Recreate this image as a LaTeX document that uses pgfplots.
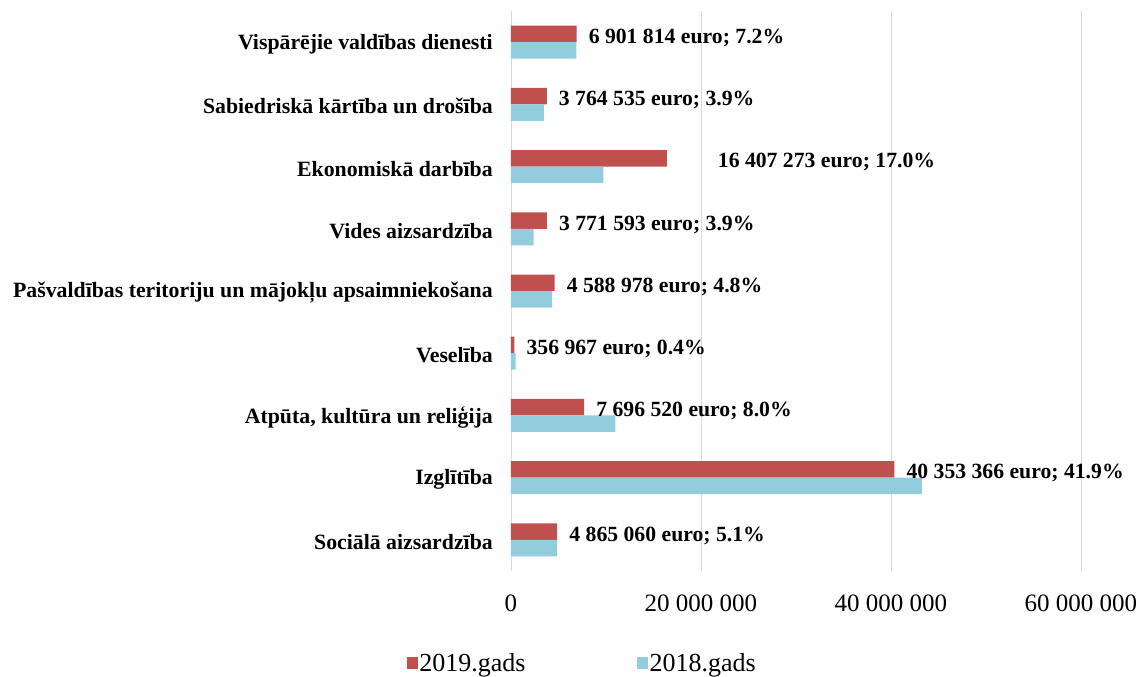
\documentclass[border=0pt]{standalone}
\usepackage{fontspec}
\setmainfont{Liberation Serif}
\usepackage{pgfplots}
\usepackage{pgfplotstable}
\pgfplotsset{compat=1.18}
\definecolor{c19}{HTML}{C0504D}
\definecolor{c18}{HTML}{93CDDD}
\definecolor{gridc}{HTML}{D9D9D9}
\pgfplotstableread[col sep=comma]{
y,v19,v18,lab,dx
8,6901814,6880000,6 901 814 euro; 7.2\%,0
7,3764535,3470000,3 764 535 euro; 3.9\%,0
6,16407273,9720000,16 407 273 euro; 17.0\%,39
5,3771593,2390000,3 771 593 euro; 3.9\%,0
4,4588978,4320000,4 588 978 euro; 4.8\%,0
3,356967,490000,356 967 euro; 0.4\%,0
2,7696520,10990000,7 696 520 euro; 8.0\%,0
1,40353366,43260000,40 353 366 euro; 41.9\%,0
0,4865060,4850000,4 865 060 euro; 5.1\%,0
}\datatable
\begin{document}
\begin{tikzpicture}
\begin{axis}[
  scale only axis, width=570bp, height=560bp,
  xmin=0, xmax=6e7, ymin=-0.5, ymax=8.5,
  xbar, bar width=16.5bp,
  axis y line*=left, axis x line*=bottom,
  x axis line style={draw=none},
  y axis line style={draw=gridc, line width=0.8bp, -},
  xmajorgrids, grid style={draw=gridc, line width=0.8bp},
  major tick length=0,
  scaled x ticks=false,
  xtick={0,2e7,4e7,6e7},
  xticklabels={0,20 000 000,40 000 000,60 000 000},
  xticklabel style={font=\fontsize{25bp}{29bp}\selectfont, anchor=center, yshift=-32bp, inner sep=0pt},
  ytick={0,...,8},
  yticklabels={Sociālā aizsardzība, Izglītība, {Atpūta, kultūra un reliģija}, Veselība, Pašvaldības teritoriju un mājokļu apsaimniekošana, Vides aizsardzība, Ekonomiskā darbība, Sabiedriskā kārtība un drošība, Vispārējie valdības dienesti},
  yticklabel style={font=\fontsize{21.8bp}{25bp}\selectfont\bfseries, anchor=east, xshift=-18bp, yshift=-2bp, inner sep=0pt},
  legend style={at={(0.1246,-0.164)}, anchor=center, legend columns=2, draw=none, fill=none,
    font=\fontsize{26bp}{30bp}\selectfont,
    nodes={inner sep=1.5bp},
    /tikz/every even column/.append style={column sep=110bp}},
  legend image code/.code={\fill[#1,draw=none] (0bp,-6bp) rectangle (11bp,6bp);},
]
\addplot[fill=c19, draw=none, bar shift=8.25bp,
  point meta=explicit symbolic,
  visualization depends on={\thisrow{dx} \as \dx},
  nodes near coords,
  every node near coord/.append style={font=\fontsize{21.7bp}{25bp}\selectfont\bfseries, anchor=west, inner sep=0pt, xshift={12bp+\dx pt}, yshift=-4bp, text=black},
] table[x=v19, y=y, meta=lab] {\datatable};
\addplot[fill=c18, draw=none, bar shift=-8.25bp] table[x=v18, y=y] {\datatable};
\legend{2019.gads, 2018.gads}
\end{axis}
\pgfresetboundingbox
\useasboundingbox (-511bp,-106bp) rectangle (630bp,571bp);
\end{tikzpicture}
\end{document}
